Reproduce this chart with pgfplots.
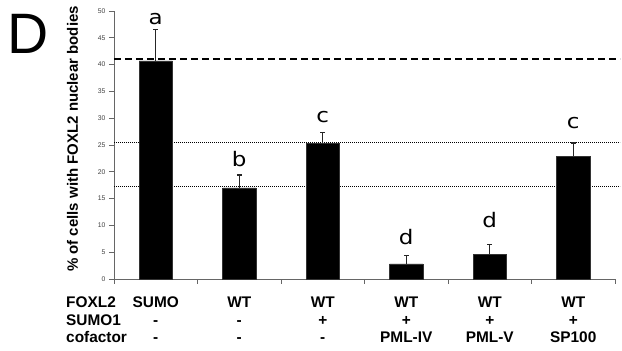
\documentclass[border=0pt]{standalone}
\usepackage{pgfplots}
\pgfplotsset{compat=1.18}
\usepackage{fontspec}
\setmainfont{Liberation Sans}
\newfontfamily\letterfont{DejaVu Sans}
\begin{document}
\begin{tikzpicture}[x=1pt,y=1pt]
\useasboundingbox (-114,-72) rectangle (508,279);
\begin{axis}[
  at={(0pt,0pt)}, anchor=south west,
  scale only axis, width=501pt, height=268pt,
  xmin=-0.5, xmax=5.5, ymin=0, ymax=50,
  axis x line*=bottom, axis y line*=left,
  axis line style={black!60, line width=0.8pt},
  xtick={-0.5,0.5,1.5,2.5,3.5,4.5,5.5}, xticklabels={},
  ytick={0,5,...,50},
  tick style={black!60, line width=0.8pt},
  major tick length=5pt,
  xtick align=outside, ytick align=outside,
  yticklabel style={font=\fontsize{6.8}{7}\selectfont, text=black!75},
  /pgf/number format/assume math mode=true,
  clip=false,
]
\addplot[black, mark=none, line width=1.6pt, dash pattern=on 7pt off 4pt] coordinates {(-0.5,41.0) (5.56,41.0)};
\addplot[black, mark=none, line width=1pt, dash pattern=on 1pt off 1pt] coordinates {(-0.5,25.4) (5.56,25.4)};
\addplot[black, mark=none, line width=1pt, dash pattern=on 1pt off 1pt] coordinates {(-0.5,17.2) (5.56,17.2)};
\addplot[ybar, bar width=0.4, fill=black, draw=black!80, line width=0.5pt,
  error bars/.cd, y dir=plus, y explicit,
  error bar style={line width=1.3pt, black!85},
  error mark options={rotate=90, mark size=2.4pt, line width=1.3pt, black!85}]
  coordinates {
  (0,40.7) +- (0,5.9)
  (1,17.0) +- (0,2.4)
  (2,25.3) +- (0,2.0)
  (3,2.8) +- (0,1.6)
  (4,4.6) +- (0,1.9)
  (5,22.9) +- (0,2.5)
  };
\tikzset{lt/.style={anchor=base, inner sep=0pt, xscale=1.15, font=\letterfont\fontsize{20}{24}\selectfont}}
\node[lt] at (axis cs:0,47.5) {a};
\node[lt] at (axis cs:1,21.0) {b};
\node[lt] at (axis cs:2,29.2) {c};
\node[lt] at (axis cs:3,6.4) {d};
\node[lt] at (axis cs:4,9.6) {d};
\node[lt] at (axis cs:5,28.1) {c};
\tikzset{tt/.style={anchor=base, inner sep=0pt, font=\bfseries\fontsize{15.4}{18}\selectfont}}
\node[tt] at ([yshift=-28pt]axis cs:0,0) {SUMO};
\node[tt] at ([yshift=-28pt]axis cs:1,0) {WT};
\node[tt] at ([yshift=-28pt]axis cs:2,0) {WT};
\node[tt] at ([yshift=-28pt]axis cs:3,0) {WT};
\node[tt] at ([yshift=-28pt]axis cs:4,0) {WT};
\node[tt] at ([yshift=-28pt]axis cs:5,0) {WT};
\node[tt] at ([yshift=-46pt]axis cs:0,0) {-};
\node[tt] at ([yshift=-46pt]axis cs:1,0) {-};
\node[tt] at ([yshift=-46pt]axis cs:2,0) {+};
\node[tt] at ([yshift=-46pt]axis cs:3,0) {+};
\node[tt] at ([yshift=-46pt]axis cs:4,0) {+};
\node[tt] at ([yshift=-46pt]axis cs:5,0) {+};
\node[tt] at ([yshift=-63.5pt]axis cs:0,0) {-};
\node[tt] at ([yshift=-63.5pt]axis cs:1,0) {-};
\node[tt] at ([yshift=-63.5pt]axis cs:2,0) {-};
\node[tt] at ([yshift=-63.5pt]axis cs:3,0) {PML-IV};
\node[tt] at ([yshift=-63.5pt]axis cs:4,0) {PML-V};
\node[tt] at ([yshift=-63.5pt]axis cs:5,0) {SP100};
\end{axis}
\tikzset{rl/.style={anchor=base west, inner sep=0pt, font=\bfseries\fontsize{15.4}{18}\selectfont}}
\node[rl] at (-48,-28) {FOXL2};
\node[rl] at (-48,-46) {SUMO1};
\node[rl] at (-48,-63.5) {cofactor};
\node[rotate=90, inner sep=0pt, font=\bfseries\fontsize{15}{17}\selectfont] at (-41.5,140) {\% of cells with FOXL2 nuclear bodies};
\node[anchor=base west, inner sep=0pt, font=\fontsize{57}{60}\selectfont] at (-107,225.7) {D};
\end{tikzpicture}
\end{document}
